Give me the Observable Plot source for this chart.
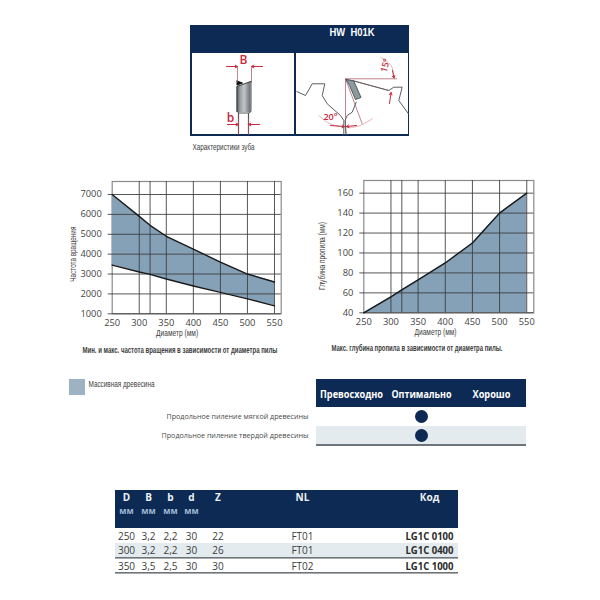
<!DOCTYPE html>
<html lang="ru">
<head>
<meta charset="utf-8">
<script src="https://cdn.jsdelivr.net/npm/d3@7"></script>
<script src="https://cdn.jsdelivr.net/npm/@observablehq/plot@0.6"></script>
<style>
html,body{margin:0;padding:0;background:#fff}
#page{position:relative;width:600px;height:600px;overflow:hidden}
#page svg{position:absolute;background:transparent}
</style>
</head>
<body>
<div id="page"></div>
<script>
// ---------- chart data ----------
const diameters = [250, 300, 320, 350, 400, 450, 500, 550];
const rpmMax = [7000, 5900, 5450, 4900, 4250, 3600, 3000, 2600];
const rpmMin = [3450, 3100, 2980, 2750, 2400, 2080, 1750, 1400];
const depthDiameters = [250, 300, 320, 350, 400, 450, 470, 500, 550];
const depthMax = [40, 56, 63, 73, 90, 110, 122, 140, 160];
const xTicks = [250, 300, 350, 400, 450, 500, 550];
const xGrid = [300, 320, 350, 400, 450, 500, 550];
const rpmTicks = [1000, 2000, 3000, 4000, 5000, 6000, 7000];
const depthTicks = [40, 60, 80, 100, 120, 140, 160];

// ---------- table data ----------
const ratingHeads = ["Превосходно", "Оптимально", "Хорошо"];
const ratingRows = ["Продольное пиление мягкой древесины", "Продольное пиление твердой древесины"];
const ratingChoice = ["Оптимально", "Оптимально"];
const specColumns = ["D", "B", "b", "d", "Z", "NL", "Код"];
const specUnits = ["мм", "мм", "мм", "мм"];
const specD = ["250", "300", "350"];
const specB = ["3,2", "3,2", "3,5"];
const specb = ["2,2", "2,2", "2,5"];
const specd = ["30", "30", "30"];
const specZ = ["22", "26", "30"];
const specNL = ["FT01", "FT01", "FT02"];
const specCode = ["LG1C 0100", "LG1C 0400", "LG1C 1000"];

// ---------- styles ----------
const navy = "#0c2a54", band = "#e3ebee", rule = "#6f7478", fillBlue = "#84a1b8", ink = "#3c3c3c", red = "#c8283c";
const sans = "'Open Sans', sans-serif", narrow = "'Liberation Sans', sans-serif";

// rendered widths of the condensed labels (the reference font is narrower than any installed one)
const textWidths = new Map([
  ["HW  H01K", 45],
  ["Характеристики зуба", 62],
  ["Мин. и макс. частота вращения в зависимости от диаметра пилы", 195],
  ["Макс. глубина пропила в зависимости от диаметра пилы.", 171],
  ["Массивная древесина", 66],
  ["Превосходно", 63], ["Оптимально", 60], ["Хорошо", 38],
  ["Продольное пиление мягкой древесины", 142],
  ["Продольное пиление твердой древесины", 147],
  ["Диаметр (мм)", 42],
  ["Частота вращения", 55],
  ["Глубина пропила (мм)", 68],
  ["LG1C 0100", 48], ["LG1C 0400", 48], ["LG1C 1000", 48]
]);
const squeeze = svg => {
  svg.querySelectorAll("text").forEach(t => {
    const w = textWidths.get(t.textContent);
    if (w) { t.setAttribute("textLength", w); t.setAttribute("lengthAdjust", "spacingAndGlyphs"); }
  });
  return svg;
};

// ---------- page layout (scale units of the layout plot) ----------
const ratingX = new Map([["Превосходно", 351], ["Оптимально", 421], ["Хорошо", 491]]);
const ratingY = [416, 435];
const specX = [126, 148, 170, 191, 217.5, 302, 429];
const specY = [536, 550.5, 566];
const panelRects = [{x1: 192, x2: 294, y1: 53, y2: 134}, {x1: 296, x2: 408, y1: 53, y2: 134}];
const sawLeft = [[296.3,91],[305,95],[311.7,83.3],[324.3,83.3],[321.7,95],[326.7,103.3],[340,115],[343.3,120],[343.3,134]];
const sawGullet = [[355.7,101.7],[351.7,111.7],[346.7,115],[344.6,120],[345.7,134]];
const sawRight = [[352,80],[370,85],[388.3,90],[393.3,86.7],[401.7,86.7],[398.3,100],[408,113.3]];
const sawTooth = [[345.5,79],[353.3,80.5],[360.5,97],[355,99],[349,85],[345.5,79]];
const toothEdge = [[250.5,81],[236.5,86],[236.5,111],[238.5,112.5],[248.5,112.5],[250.5,111],[250.5,81]];
const shanks = [[238,112.5,238,134],[248,112.5,248,134]];
const toothTip = [[236.5,80.5],[242,82.5],[236.5,84.5],[236.5,80.5]];
const dimLines = [[237,66,237,82],[251,66,251,82],[238,118,238,134],[248,118,248,134],
  [345,78.3,396.7,78.3],[345,78.3,345,133],[345,78.3,361.7,123.3],[345,78.3,388.3,90]];
const dimArrows = [[226,66,237,66],[262,66,251,66],[227,124,238,124],[259,124,248,124],
  [330,125,344,126],[356,125,346,126],[392,70,393.5,77.5],[389,103,390.5,92]];
const arc15 = [[393.3,76.7],[390.7,65],[380,56.7]];
const arc20 = [[318.3,115],[328.3,122.7],[340,126],[356.7,126],[371.7,118.3]];

const lineMark = (pts, o) => Plot.line(pts, {x: d => d[0], y: d => d[1], ...o});
const specCells = [specD, specB, specb, specd, specZ, specNL].flatMap((col, c) =>
  col.map((v, r) => ({v, x: specX[c], y: specY[r]})));

const toothGradient = () => {
  const svg = d3.create("svg:defs");
  const g = svg.append("linearGradient").attr("id", "toothFill");
  [[0, "#4c4f52"], [0.25, "#9a9ea1"], [0.55, "#c2c6c8"], [0.8, "#8f9498"], [1, "#6b6f73"]]
    .forEach(([o, c]) => g.append("stop").attr("offset", o).attr("stop-color", c));
  return svg.node();
};

const layout = Plot.plot({
  width: 600, height: 600, margin: 0,
  x: {domain: [0, 600], range: [0, 600], axis: null},
  y: {domain: [0, 600], range: [0, 600], axis: null},
  style: {background: "transparent", left: 0, top: 0},
  marks: [
    // tooth panel
    Plot.rect([{x1: 190, x2: 409, y1: 25, y2: 136}], {x1: "x1", x2: "x2", y1: "y1", y2: "y2", fill: navy}),
    Plot.rect(panelRects, {x1: "x1", x2: "x2", y1: "y1", y2: "y2", fill: "#fff"}),
    Plot.text(["HW  H01K"], {x: [351.5], y: [32], fontFamily: "'Liberation Sans', sans-serif", fontWeight: 700, fontSize: 10, fill: "#fff", textAnchor: "middle"}),
    toothGradient,
    Plot.areaY([[236.5, 86], [250.5, 81]], {x: d => d[0], y1: () => 112, y2: d => d[1], fill: "url(#toothFill)"}),
    lineMark(toothEdge, {stroke: "#3d4144", strokeWidth: 0.9}),
    lineMark(toothTip, {fill: "#111", stroke: "#111", strokeWidth: 1}),
    Plot.link(shanks, {x1: d => d[0], y1: d => d[1], x2: d => d[2], y2: d => d[3], stroke: "#555", strokeWidth: 1.2}),
    lineMark(arc15, {curve: "catmull-rom", stroke: "#e2a6ad", strokeWidth: 0.9}),
    lineMark(arc20, {curve: "catmull-rom", stroke: "#e2a6ad", strokeWidth: 0.9}),
    Plot.link(dimLines, {x1: d => d[0], y1: d => d[1], x2: d => d[2], y2: d => d[3], stroke: "#a8505c", strokeWidth: 0.7}),
    Plot.arrow(dimArrows, {x1: d => d[0], y1: d => d[1], x2: d => d[2], y2: d => d[3], stroke: red, strokeWidth: 1, headLength: 4, bend: 0}),
    lineMark(sawLeft, {stroke: "#5a5e62", strokeWidth: 1}),
    lineMark(sawGullet, {stroke: "#5a5e62", strokeWidth: 1}),
    lineMark(sawRight, {stroke: "#5a5e62", strokeWidth: 1}),
    lineMark(sawTooth, {stroke: "#4e5c5e", fill: "#8c9aa0", strokeWidth: 1}),
    Plot.text(["B"], {x: [243], y: [60], fill: red, fontFamily: sans, fontSize: 12, fontWeight: 600}),
    Plot.text(["b"], {x: [230], y: [118], fill: red, fontFamily: sans, fontSize: 12, fontWeight: 600}),
    Plot.text(["20°"], {x: [330], y: [117], fill: red, fontFamily: sans, fontSize: 9, fontWeight: 600}),
    Plot.text(["15°"], {x: [385], y: [65], fill: red, fontFamily: sans, fontSize: 9, fontWeight: 600, rotate: -75}),
    Plot.text(["Характеристики зуба"], {x: [192], y: [147], textAnchor: "start", fill: ink, fontFamily: narrow, fontSize: 8.5}),

    // chart captions
    Plot.text(["Мин. и макс. частота вращения в зависимости от диаметра пилы"], {x: [82], y: [350], textAnchor: "start", fill: ink, fontFamily: narrow, fontSize: 8.3, fontWeight: 700}),
    Plot.text(["Макс. глубина пропила в зависимости от диаметра пилы."], {x: [331], y: [348], textAnchor: "start", fill: ink, fontFamily: narrow, fontSize: 8.3, fontWeight: 700}),

    // legend
    Plot.rect([0], {x1: () => 69, x2: () => 85, y1: () => 379, y2: () => 395, fill: "#9db3c4"}),
    Plot.text(["Массивная древесина"], {x: [88], y: [384], textAnchor: "start", fill: ink, fontFamily: narrow, fontSize: 8.3}),

    // rating table
    Plot.rect([0], {x1: () => 316, x2: () => 526, y1: () => 379, y2: () => 407, fill: navy}),
    Plot.rect([0], {x1: () => 316, x2: () => 526, y1: () => 426, y2: () => 444, fill: band}),
    Plot.rect([0], {x1: () => 316, x2: () => 526, y1: () => 444, y2: () => 446, fill: rule}),
    Plot.text(ratingHeads, {x: d => ratingX.get(d), y: () => 394, text: d => d, fill: "#fff", fontFamily: sans, fontWeight: 700, fontSize: 10}),
    Plot.text(ratingRows, {x: () => 308, y: (d, i) => ratingY[i], text: d => d, textAnchor: "end", fill: "#4a4a4a", fontFamily: sans, fontSize: 7.7}),
    Plot.dot(ratingChoice, {x: d => ratingX.get(d), y: (d, i) => ratingY[i], r: 6.5, fill: navy}),

    // spec table
    Plot.rect([0], {x1: () => 115, x2: () => 458, y1: () => 490, y2: () => 528, fill: navy}),
    Plot.rect([0], {x1: () => 115, x2: () => 458, y1: () => 543, y2: () => 557, fill: band}),
    Plot.rect([0], {x1: () => 115, x2: () => 458, y1: () => 557, y2: () => 558.6, fill: rule}),
    Plot.rect([0], {x1: () => 115, x2: () => 458, y1: () => 572, y2: () => 573.6, fill: rule}),
    Plot.text(specColumns, {x: (d, i) => specX[i], y: () => 497, text: d => d, fill: "#eef2f6", fontFamily: sans, fontWeight: 700, fontSize: 10}),
    Plot.text(specUnits, {x: (d, i) => specX[i], y: () => 511, text: d => d, fill: "#9fb8d0", fontFamily: sans, fontWeight: 700, fontSize: 8.5}),
    Plot.text(specCells, {x: "x", y: "y", text: "v", fill: ink, fontFamily: sans, fontSize: 10}),
    Plot.text(specCode, {x: () => 453, y: (d, i) => specY[i], text: d => d, textAnchor: "end", fill: "#2a2a2a", fontFamily: sans, fontWeight: 700, fontSize: 10})
  ]
});

function chart({left, top, frameL, frameR, frameT, frameB, xMax, yDomain, yTicks, xs, marks, xTitle, xTitleAt, yTitle, yTitleAt, dxY}) {
  const w = 240, h = 190;
  return Plot.plot({
    width: w, height: h,
    marginLeft: frameL, marginRight: w - frameR, marginTop: frameT, marginBottom: h - frameB,
    x: {domain: [250, xMax], axis: null},
    y: {domain: yDomain, axis: null},
    style: {background: "transparent", left: left + "px", top: top + "px"},
    marks: [
      Plot.frame({stroke: "#8a8a8a", strokeWidth: 1.2}),
      ...marks,
      Plot.ruleX(xGrid, {stroke: "#3a3a3a", strokeOpacity: 0.85, strokeWidth: 1}),
      Plot.ruleY(yTicks, {stroke: "#3a3a3a", strokeOpacity: 0.85, strokeWidth: 1, insetLeft: -4}),
      ...xs,
      Plot.text(xTicks, {x: d => d, frameAnchor: "bottom", dy: 12, text: d => String(d), fill: "#444", fontFamily: sans, fontSize: 9.3}),
      Plot.text(yTicks, {y: d => d, frameAnchor: "left", textAnchor: "end", dx: -10.5, text: d => String(d), fill: "#444", fontFamily: sans, fontSize: 9.3}),
      Plot.text([xTitle], {x: () => xTitleAt, frameAnchor: "bottom", dy: 22, fill: ink, fontFamily: narrow, fontSize: 8.5}),
      Plot.text([yTitle], {y: () => yTitleAt, frameAnchor: "left", textAnchor: "middle", dx: dxY, rotate: -90, fill: ink, fontFamily: narrow, fontSize: 8.5})
    ]
  });
}

const rpmData = diameters.map((d, i) => ({d, hi: rpmMax[i], lo: rpmMin[i]}));
const depthData = depthDiameters.map((d, i) => ({d, v: depthMax[i]}));

const chart1 = chart({
  left: 60, top: 170, frameL: 51.7, frameR: 220.7, frameT: 11, frameB: 143.3,
  xMax: 562.4, yDomain: [1000, 7654], yTicks: rpmTicks, xs: [
    Plot.line(rpmData, {x: "d", y: "hi", stroke: "#1a1a1a", strokeWidth: 1.4}),
    Plot.line(rpmData, {x: "d", y: "lo", stroke: "#1a1a1a", strokeWidth: 1.4})
  ],
  marks: [Plot.areaY(rpmData, {x: "d", y1: "lo", y2: "hi", fill: fillBlue})],
  xTitle: "Диаметр (мм)", xTitleAt: 370, yTitle: "Частота вращения", yTitleAt: 4000, dxY: -38.5
});

const chart2 = chart({
  left: 310, top: 170, frameL: 53.3, frameR: 223.3, frameT: 10, frameB: 142.3,
  xMax: 563, yDomain: [40, 172.7], yTicks: depthTicks, xs: [
    Plot.line(depthData, {x: "d", y: "v", stroke: "#1a1a1a", strokeWidth: 1.4})
  ],
  marks: [Plot.areaY(depthData, {x: "d", y1: () => 40, y2: "v", fill: fillBlue})],
  xTitle: "Диаметр (мм)", xTitleAt: 382, yTitle: "Глубина пропила (мм)", yTitleAt: 97, dxY: -42
});

document.getElementById("page").append(squeeze(layout), squeeze(chart1), squeeze(chart2));
</script>
</body>
</html>
